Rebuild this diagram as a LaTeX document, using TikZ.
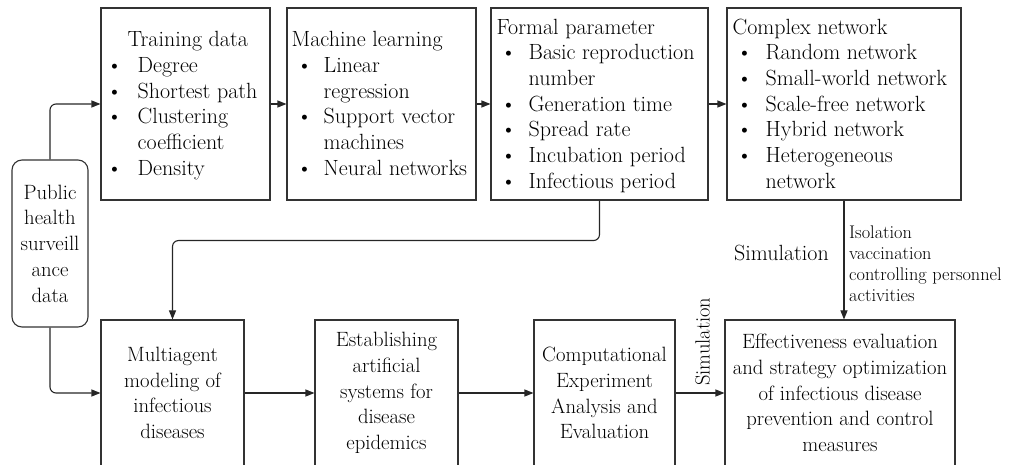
\documentclass[tikz,border=0pt]{standalone}
\usepackage{fontspec}
\usetikzlibrary{arrows.meta}
\newcommand{\bl}[1]{\hspace{#1}\textbullet}
\begin{document}
\begin{tikzpicture}[x=1pt,y=-1pt,
  box/.style={draw=black!80, line width=1.1pt, rectangle, inner sep=0pt, minimum width=#1},
  rbox/.style={draw=black!80, line width=1.1pt, rectangle, rounded corners=10pt, inner sep=0pt},
  txt/.style={inner sep=0pt, font=\fontsize{22}{25.7}\selectfont},
  ctxt/.style={align=center, font=\fontsize{20.7}{25.7}\selectfont},
  small/.style={inner sep=0pt, align=left, font=\fontsize{18.3}{21}\selectfont},
  arr/.style={draw=black!85, line width=1.1pt, -{Triangle[length=9pt,width=7pt]}}]
\useasboundingbox (0,0) rectangle (1010,465);
\clip (0,0) rectangle (1010,465);
% top boxes
\node[box=169pt, minimum height=192pt] (td) at (185.5,104) {};
\node[box=189pt, minimum height=192pt] (ml) at (381.5,104) {};
\node[box=217pt, minimum height=192pt] (fp) at (599.5,104) {};
\node[box=234pt, minimum height=192pt] (cn) at (844,104) {};
\node[txt, anchor=west] (tdt) at ([xshift=6pt,yshift=-2pt]td.west) {\begin{tabular}{@{}p{31pt}@{}l@{}}
\multicolumn{2}{@{\hspace{21pt}}l@{}}{Training data}\\
\textbullet & Degree\\
\textbullet & Shortest path\\
\textbullet & Clustering\\
 & coefficient\\
\textbullet & Density
\end{tabular}};
\node[txt, anchor=west] (mlt) at ([xshift=5pt,yshift=-2pt]ml.west) {\begin{tabular}{@{}p{32pt}@{}l@{}}
\multicolumn{2}{@{}l@{}}{Machine learning}\\
\bl{5pt} & Linear\\
 & regression\\
\bl{5pt} & Support vector\\
 & machines\\
\bl{5pt} & Neural networks
\end{tabular}};
\node[txt, anchor=west] (fpt) at ([xshift=6pt,yshift=-2pt]fp.west) {\begin{tabular}{@{}p{32pt}@{}l@{}}
\multicolumn{2}{@{}l@{}}{Formal parameter}\\
\bl{4pt} & Basic reproduction\\
 & number\\
\bl{4pt} & Generation time\\
\bl{4pt} & Spread rate\\
\bl{4pt} & Incubation period\\
\bl{4pt} & Infectious period
\end{tabular}};
\node[txt, anchor=west] (cnt) at ([xshift=6pt,yshift=-2pt]cn.west) {\begin{tabular}{@{}p{33pt}@{}l@{}}
\multicolumn{2}{@{}l@{}}{Complex network}\\
\bl{4pt} & Random network\\
\bl{4pt} & Small-world network\\
\bl{4pt} & Scale-free network\\
\bl{4pt} & Hybrid network\\
\bl{4pt} & Heterogeneous\\
 & network
\end{tabular}};
% public health
\node[rbox, minimum width=76pt, minimum height=167pt, ctxt] (ph) at (50,243.5) {Public\\health\\surveill\\ance\\data};
% bottom boxes
\node[box=143pt, minimum height=146pt, ctxt] (ma) at (172.5,393) {Multiagent\\modeling of\\infectious\\diseases};
\node[box=143pt, minimum height=146pt, ctxt] (es) at (386.5,393) {Establishing\\artificial\\systems for\\disease\\epidemics};
\node[box=141pt, minimum height=146pt, ctxt] (ce) at (604.5,393) {Computational\\Experiment\\Analysis and\\Evaluation};
\node[box=230pt, minimum height=146pt, ctxt] (ef) at (840,393) {Effectiveness evaluation\\and strategy optimization\\of infectious disease\\prevention and control\\measures};
% connectors
\draw[arr, rounded corners=6pt] (ph.north) |- (td.west);
\draw[arr, rounded corners=6pt] (ph.south) |- (ma.west);
\draw[arr] (td.east) -- (ml.west);
\draw[arr] (ml.east) -- (fp.west);
\draw[arr] (fp.east) -- (cn.west);
\draw[arr, rounded corners=6pt] (fp.south) -- ++(0,40) -| (ma.north);
\draw[arr] (cn.south) -- (cn.south |- ef.north);
\draw[arr] (ma.east) -- (es.west);
\draw[arr] (es.east) -- (ce.west);
\draw[arr] (ce.east) -- (ef.west);
\node[inner sep=0pt, font=\fontsize{20.5}{24}\selectfont, rotate=90, anchor=west] (sim2) at ([xshift=27pt,yshift=7pt]ce.east) {Simulation};
\node[txt, anchor=east] (sim1) at (829,253) {Simulation};
\node[small, anchor=west] (iso) at (849,263.5) {Isolation\\vaccination\\controlling personnel\\activities};
\end{tikzpicture}
\end{document}
